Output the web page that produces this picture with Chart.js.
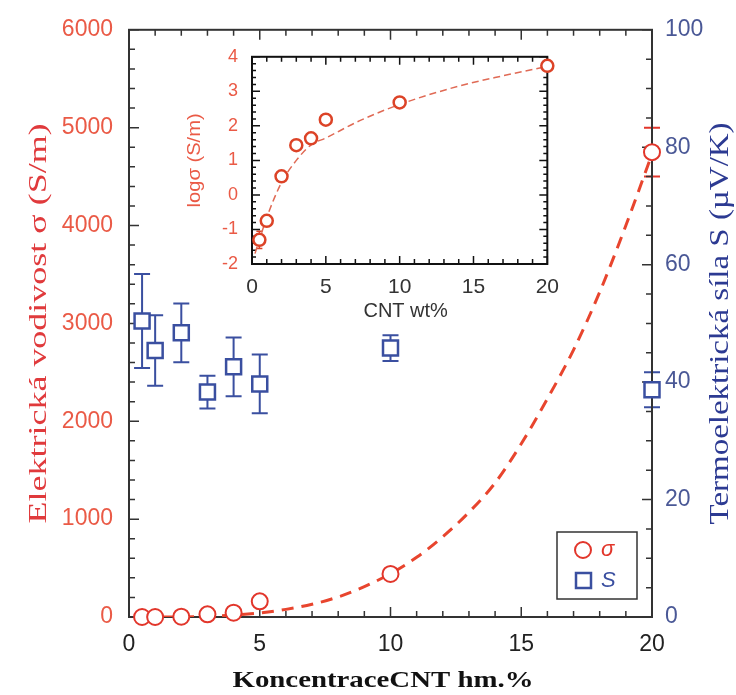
<!DOCTYPE html>
<html>
<head>
<meta charset="utf-8">
<script src="https://cdn.jsdelivr.net/npm/chart.js@4.4.1/dist/chart.umd.min.js"></script>
<style>
  body { margin: 0; background: #fff; }
  #wrap { position: relative; width: 736px; height: 695px; }
  #main { position: absolute; left: 0; top: 0; }
  #inset { position: absolute; left: 175px; top: 32px; }
</style>
</head>
<body>
<div id="wrap">
  <canvas id="main" width="736" height="695"></canvas>
  <canvas id="inset" width="395" height="290"></canvas>
</div>
<script>
// data
const conc = [0.5, 1, 2, 3, 4, 5, 10, 20];
const sigma = [0, 0, 3, 27, 44, 160, 440, 4750];
const sigmaErr = [0, 0, 0, 0, 0, 0, 0, 250];
const seebeck = [50.4, 45.4, 48.4, 38.3, 42.6, 39.7, 45.8, 38.7];
const seebeckErr = [8, 6, 5, 2.8, 5, 5, 2.2, 3];
const fitConc = [0.5, 2, 4, 5, 6, 7, 8, 9, 10, 11, 12, 13, 14, 15, 16, 17, 18, 19, 20];
const sigmaFit = [0, 0, 20, 42, 78, 130, 205, 310, 443, 610, 820, 1070, 1370, 1770, 2230, 2730, 3320, 4000, 4730];

// inset (log scale of sigma)
const logSigma = [-1.3, -0.75, 0.54, 1.44, 1.64, 2.18, 2.68, 3.74];
const logSigmaErr = [0.25, 0, 0, 0, 0, 0, 0, 0];
const logFitConc = [0.2, 0.5, 1, 2, 3, 4, 5, 7.3, 10, 14, 17, 20];
const logSigmaFit = [-1.7, -1.3, -0.65, 0.36, 1.0, 1.45, 1.65, 2.15, 2.62, 3.15, 3.45, 3.72];

// tick labels
const xTicks = [0, 5, 10, 15, 20];
const sigmaTicks = [0, 1000, 2000, 3000, 4000, 5000, 6000];
const seebeckTicks = [0, 20, 40, 60, 80, 100];
const logTicks = [-2, -1, 0, 1, 2, 3, 4];

const RED = '#e2362b';
const RED_TXT = '#ea5a46';
const BLUE = '#3a4fa0';
const BLUE_TXT = '#4a5896';

const pts = (xs, ys) => xs.map((x, i) => ({ x: x, y: ys[i] }));
const fixTicks = arr => (scale) => { scale.ticks = arr.map(v => ({ value: v })); };
const plain = v => String(v);

// error bars, drawn under the markers
const errorBars = {
  id: 'errorBars',
  beforeDatasetsDraw(chart) {
    const ctx = chart.ctx;
    chart.data.datasets.forEach((ds, i) => {
      if (!ds.errors) return;
      const meta = chart.getDatasetMeta(i);
      const ys = chart.scales[ds.yAxisID];
      ctx.save();
      ctx.strokeStyle = ds.borderColor;
      ctx.lineWidth = ds.errWidth || 2;
      const cap = ds.capSize || 8;
      ds.data.forEach((p, j) => {
        const e = ds.errors[j];
        if (!e) return;
        const x = meta.data[j].x;
        const y1 = ys.getPixelForValue(p.y + e);
        const y2 = ys.getPixelForValue(p.y - e);
        ctx.beginPath();
        ctx.moveTo(x, y1); ctx.lineTo(x, y2);
        ctx.moveTo(x - cap, y1); ctx.lineTo(x + cap, y1);
        ctx.moveTo(x - cap, y2); ctx.lineTo(x + cap, y2);
        ctx.stroke();
      });
      ctx.restore();
    });
  }
};

// box frame with inward ticks (major from the scale, minor by step)
function drawTicks(ctx, scale, minorStep, len, minorLen, side, area) {
  const vals = [];
  const n = Math.round((scale.max - scale.min) / minorStep);
  for (let k = 0; k <= n; k++) vals.push({ v: scale.min + k * minorStep, major: false });
  scale.ticks.forEach(t => vals.push({ v: t.value, major: true }));
  ctx.beginPath();
  vals.forEach(o => {
    const p = scale.getPixelForValue(o.v);
    const l = o.major ? len : minorLen;
    if (side === 'bottom') { ctx.moveTo(p, area.bottom); ctx.lineTo(p, area.bottom - l); }
    if (side === 'top') { ctx.moveTo(p, area.top); ctx.lineTo(p, area.top + l); }
    if (side === 'left') { ctx.moveTo(area.left, p); ctx.lineTo(area.left + l, p); }
    if (side === 'right') { ctx.moveTo(area.right, p); ctx.lineTo(area.right - l, p); }
  });
  ctx.stroke();
}

const mainFrame = {
  id: 'mainFrame',
  beforeDatasetsDraw(chart) {
    const { ctx, chartArea: a, scales } = chart;
    ctx.save();
    ctx.strokeStyle = '#333';
    ctx.lineWidth = 2;
    ctx.strokeRect(a.left, a.top, a.right - a.left, a.bottom - a.top);
    ctx.lineWidth = 1.5;
    drawTicks(ctx, scales.x, 1, 10, 6, 'bottom', a);
    drawTicks(ctx, scales.x, 1, 10, 6, 'top', a);
    drawTicks(ctx, scales.y, 200, 10, 6, 'left', a);
    drawTicks(ctx, scales.yR, 5, 10, 6, 'right', a);
    ctx.restore();
  },
  afterDraw(chart) {
    const { ctx, chartArea: a } = chart;
    const midY = (a.top + a.bottom) / 2;
    const fitText = (txt, cx, cy, rot, font, color, len) => {
      ctx.save();
      ctx.font = font;
      ctx.fillStyle = color;
      ctx.textAlign = 'center';
      ctx.textBaseline = 'alphabetic';
      const w = ctx.measureText(txt).width;
      ctx.translate(cx, cy);
      ctx.rotate(rot);
      ctx.scale(len / w, 1);
      ctx.fillText(txt, 0, 0);
      ctx.restore();
    };
    fitText('Elektrická vodivost σ (S/m)', 46, midY, -Math.PI / 2, '26px "Liberation Serif"', '#e03a3c', 400);
    fitText('Termoelektrická síla S (µV/K)', 728, midY, -Math.PI / 2, '27px "Liberation Serif"', '#2c3a92', 402);
    fitText('KoncentraceCNT hm.%', 383, 687, 0, 'bold 24px "Liberation Serif"', '#111', 301);

    // legend box
    ctx.save();
    const bx = a.right - 95, by = a.bottom - 85, bw = 80, bh = 67;
    ctx.strokeStyle = '#333';
    ctx.lineWidth = 1.5;
    ctx.strokeRect(bx, by, bw, bh);
    ctx.lineWidth = 2;
    ctx.strokeStyle = RED;
    ctx.beginPath();
    ctx.arc(bx + 26, by + 18, 8, 0, Math.PI * 2);
    ctx.stroke();
    ctx.strokeStyle = BLUE;
    ctx.lineWidth = 2.5;
    ctx.strokeRect(bx + 19, by + 41, 15, 15);
    ctx.font = 'italic 22px "Liberation Sans"';
    ctx.textBaseline = 'middle';
    ctx.fillStyle = RED;
    ctx.fillText('σ', bx + 44, by + 18);
    ctx.fillStyle = BLUE;
    ctx.fillText('S', bx + 44, by + 49);
    ctx.restore();
  }
};

new Chart(document.getElementById('main'), {
  type: 'scatter',
  data: {
    datasets: [
      {
        label: 'σ',
        data: pts(conc, sigma),
        errors: sigmaErr,
        capSize: 8,
        yAxisID: 'y',
        pointStyle: 'circle',
        pointRadius: 8,
        borderWidth: 2,
        borderColor: RED,
        backgroundColor: '#fff',
        clip: false,
        order: 0
      },
      {
        label: 'S',
        data: pts(conc, seebeck),
        errors: seebeckErr,
        capSize: 8,
        yAxisID: 'yR',
        pointStyle: 'rect',
        pointRadius: 10.6,
        borderWidth: 2.5,
        borderColor: BLUE,
        backgroundColor: '#fff',
        clip: false,
        order: 1
      },
      {
        label: 'fit',
        data: pts(fitConc, sigmaFit),
        yAxisID: 'y',
        showLine: true,
        cubicInterpolationMode: 'monotone',
        borderColor: '#e8452e',
        borderWidth: 3,
        borderDash: [12, 8],
        pointRadius: 0,
        order: 2
      }
    ]
  },
  options: {
    responsive: false,
    animation: false,
    layout: { padding: { top: 22, left: 0, right: 0, bottom: 0 } },
    plugins: { legend: { display: false }, tooltip: { enabled: false } },
    scales: {
      x: {
        type: 'linear', min: 0, max: 20,
        grid: { display: false, drawTicks: false }, border: { display: false },
        afterBuildTicks: fixTicks(xTicks),
        afterFit: s => { s.height = 78; },
        ticks: { padding: 14, callback: plain, color: '#222', font: { family: 'Liberation Sans', size: 23 } }
      },
      y: {
        position: 'left', min: 0, max: 6000,
        grid: { display: false, drawTicks: false }, border: { display: false },
        afterBuildTicks: fixTicks(sigmaTicks),
        afterFit: s => { s.width = 129; },
        ticks: { padding: 16, callback: plain, color: RED_TXT, font: { family: 'Liberation Sans', size: 23 } }
      },
      yR: {
        position: 'right', min: 0, max: 100,
        grid: { display: false, drawTicks: false }, border: { display: false },
        afterBuildTicks: fixTicks(seebeckTicks),
        afterFit: s => { s.width = 84; },
        ticks: { padding: 13, callback: plain, color: BLUE_TXT, font: { family: 'Liberation Sans', size: 23 } }
      }
    }
  },
  plugins: [errorBars, mainFrame]
});

// inset chart
const insetFrame = {
  id: 'insetFrame',
  beforeDraw(chart) {
    const { ctx, chartArea: a } = chart;
    ctx.save();
    ctx.fillStyle = '#fff';
    ctx.fillRect(a.left, a.top, a.right - a.left, a.bottom - a.top);
    ctx.restore();
  },
  beforeDatasetsDraw(chart) {
    const { ctx, chartArea: a, scales } = chart;
    ctx.save();
    ctx.strokeStyle = '#111';
    ctx.lineWidth = 2;
    ctx.strokeRect(a.left, a.top, a.right - a.left, a.bottom - a.top);
    ctx.lineWidth = 1.5;
    drawTicks(ctx, scales.x, 1, 8, 5, 'bottom', a);
    drawTicks(ctx, scales.x, 1, 8, 5, 'top', a);
    drawTicks(ctx, scales.y, 0.2, 8, 4, 'left', a);
    drawTicks(ctx, scales.y, 0.2, 8, 4, 'right', a);
    ctx.restore();
  },
  afterDraw(chart) {
    const { ctx, chartArea: a } = chart;
    ctx.save();
    ctx.textAlign = 'center';
    ctx.textBaseline = 'middle';
    ctx.font = '20px "Liberation Sans"';
    ctx.fillStyle = '#333';
    ctx.fillText('CNT wt%', (a.left + a.right) / 2 + 6, 279);
    ctx.translate(20, (a.top + a.bottom) / 2);
    ctx.rotate(-Math.PI / 2);
    ctx.font = '18px "Liberation Sans"';
    ctx.fillStyle = RED_TXT;
    ctx.scale(1.12, 1);
    ctx.fillText('logσ (S/m)', 0, 0);
    ctx.restore();
  }
};

new Chart(document.getElementById('inset'), {
  type: 'scatter',
  data: {
    datasets: [
      {
        label: 'log σ',
        data: pts(conc, logSigma),
        errors: logSigmaErr,
        capSize: 3,
        errWidth: 1.5,
        yAxisID: 'y',
        pointStyle: 'circle',
        pointRadius: 6,
        borderWidth: 2.5,
        borderColor: '#dc4327',
        backgroundColor: '#fff',
        clip: false,
        order: 0
      },
      {
        label: 'fit',
        data: pts(logFitConc, logSigmaFit),
        yAxisID: 'y',
        showLine: true,
        cubicInterpolationMode: 'monotone',
        borderColor: '#e06a55',
        borderWidth: 1.5,
        borderDash: [7, 4],
        pointRadius: 0,
        order: 1
      }
    ]
  },
  options: {
    responsive: false,
    animation: false,
    layout: { padding: { top: 10, left: 0, right: 14, bottom: 0 } },
    plugins: { legend: { display: false }, tooltip: { enabled: false } },
    scales: {
      x: {
        type: 'linear', min: 0, max: 20,
        grid: { display: false, drawTicks: false }, border: { display: false },
        afterBuildTicks: fixTicks(xTicks),
        afterFit: s => { s.height = 58; },
        ticks: { padding: 11, callback: plain, color: '#333', font: { family: 'Liberation Sans', size: 21 } }
      },
      y: {
        position: 'left', min: -2, max: 4,
        grid: { display: false, drawTicks: false }, border: { display: false },
        afterBuildTicks: fixTicks(logTicks),
        afterFit: s => { s.width = 77; },
        ticks: { padding: 14, callback: plain, color: RED_TXT, font: { family: 'Liberation Sans', size: 18 } }
      }
    }
  },
  plugins: [errorBars, insetFrame]
});
</script>
</body>
</html>
